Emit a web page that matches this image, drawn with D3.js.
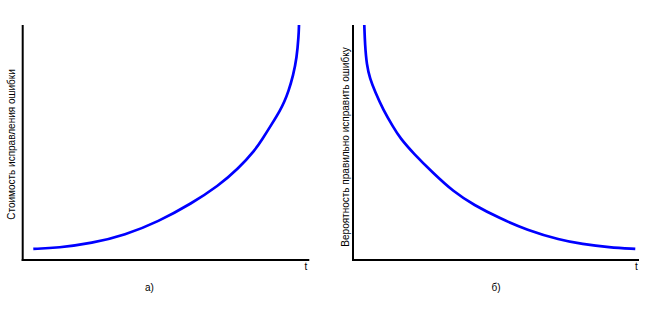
<!DOCTYPE html>
<html><head><meta charset="utf-8">
<script src="https://cdn.jsdelivr.net/npm/d3@7"></script>
<style>body{margin:0;background:#fff}svg{display:block}text{font-family:Arial,"Liberation Sans",sans-serif;font-size:10px;fill:#000}</style>
</head><body>
<script>
const costT = [3.7,12.4,24.1,35.7,47.3,59.0,68.2,75.2,81.1,83.6,86.9,89.8,91.3,92.7,94.4,95.6,96.3,96.4];
const costV = [4.7,5.2,7.1,10.6,16.3,24.1,31.5,38.8,46.8,51.4,57.8,63.6,67.4,71.6,78.7,85.8,95.7,100];
const probT = [3.95,4.2,4.8,5.9,7.7,10.6,14.1,16.4,21.1,28.1,35.1,42.2,51.4,60.7,72.4,80.0,89.6,98.7];
const probV = [100,91.5,83.0,77.3,71.6,63.8,56.5,52.0,45.4,36.9,29.1,23.4,17.7,12.8,8.5,6.8,5.4,4.7];
const panels = [
  {t: costT, v: costV, ylabel: "Стоимость исправления ошибки", caption: "а)", xlabel: "t"},
  {t: probT, v: probV, ylabel: "Вероятность правильно исправить ошибку", caption: "б)", xlabel: "t"}
];
const layout = [
  {x0: 22.7, x1: 309.3, labX: 15, labY: 144.5, capX: 149.5, tX: 306},
  {x0: 353, x1: 639, labX: 349, labY: 147, capX: 496, tX: 636.5}
];
const W = 656, H = 319, yTop = 25, yBot = 260;
const svg = d3.select("body").append("svg").attr("width", W).attr("height", H);
panels.forEach((p, i) => {
  const L = layout[i];
  const x = d3.scaleLinear().domain([0, 100]).range([L.x0, L.x1]);
  const y = d3.scaleLinear().domain([0, 100]).range([yBot, yTop]);
  const g = svg.append("g");
  g.append("line").attr("x1", x(0)).attr("x2", x(0)).attr("y1", y(100)).attr("y2", y(0) + 1)
    .attr("stroke", "#000").attr("stroke-width", 2);
  g.append("line").attr("x1", x(0) - 1).attr("x2", x(100)).attr("y1", y(0)).attr("y2", y(0))
    .attr("stroke", "#000").attr("stroke-width", 2);
  const pts = p.t.map((d, k) => [d, p.v[k]]);
  const line = d3.line().x(d => x(d[0])).y(d => y(d[1])).curve(d3.curveBasis);
  g.append("path").attr("d", line(pts)).attr("fill", "none").attr("stroke", "#0000ff")
    .attr("stroke-width", 2.7);
  g.append("text").attr("transform", `translate(${L.labX},${L.labY}) rotate(-90)`)
    .attr("text-anchor", "middle").text(p.ylabel);
  g.append("text").attr("x", L.tX).attr("y", 270).attr("text-anchor", "middle").text(p.xlabel);
  g.append("text").attr("x", L.capX).attr("y", 291).attr("text-anchor", "middle").text(p.caption);
});
</script>
</body></html>
